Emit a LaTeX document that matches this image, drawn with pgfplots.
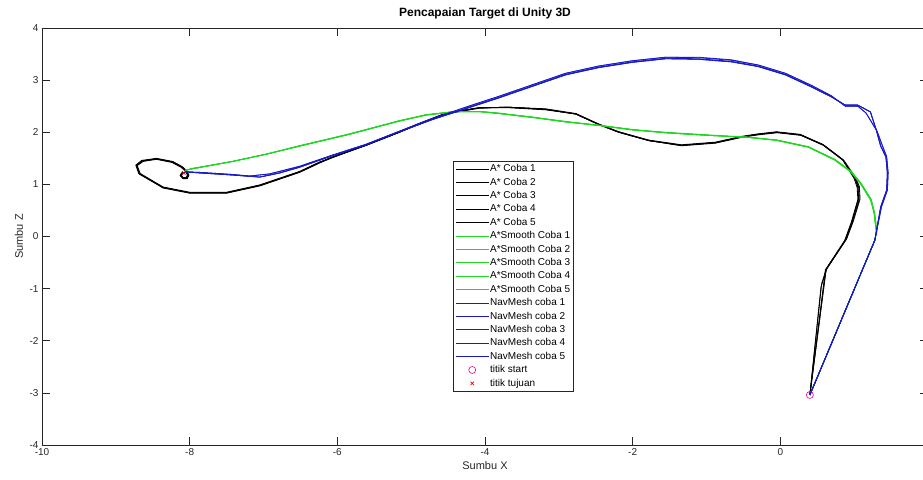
\documentclass[border=0pt]{standalone}
\usepackage{fontspec}
\setmainfont{Liberation Sans}
\usepackage{pgfplots}
\pgfplotsset{compat=1.18}
\definecolor{axgray}{RGB}{38,38,38}
\definecolor{pgreen}{RGB}{30,215,30}
\definecolor{pblue}{RGB}{25,25,200}
\begin{document}
\begin{tikzpicture}
\useasboundingbox (0,0) rectangle (923pt,479pt);
\begin{axis}[
    at={(42pt,34pt)}, anchor=south west,
    width=886pt, height=417pt, scale only axis,
    xmin=-10, xmax=2, ymin=-4, ymax=4,
    xtick={-10,-8,...,0}, ytick={-4,-3,...,4},
    tick align=inside, major tick length=8pt,
    axis line style={axgray, line width=0.6pt},
    tick style={axgray, line width=0.6pt},
    tick label style={font=\fontsize{10}{12}\selectfont, text=axgray},
    /pgf/number format/assume math mode=true,
    title={Pencapaian Target di Unity 3D},
    title style={font=\bfseries\fontsize{12}{14}\selectfont, anchor=base,
        at={(axis description cs:0.5,1)}, yshift=6pt},
    xlabel={Sumbu X},
    xlabel style={font=\fontsize{11}{13}\selectfont, text=axgray, anchor=base,
        at={(axis description cs:0.5,0)}, yshift=-24pt},
    ylabel={Sumbu Z},
    ylabel style={font=\fontsize{11}{13}\selectfont, text=axgray, anchor=base,
        at={(axis description cs:-0.0215,0.5)}},
    legend style={at={(0.464,0.681)}, anchor=north west, draw=axgray,
        line width=0.5pt, fill=white, font=\fontsize{10}{12}\selectfont,
        inner xsep=2pt, inner ysep=1pt, row sep=0pt,
        nodes={inner ysep=0.5pt, inner xsep=1pt, text height=9pt, text depth=3.4pt}},
    legend cell align=left,
    legend image code/.code={\draw[mark repeat=2,mark phase=2,#1]
        plot coordinates {(0pt,0pt) (16.5pt,0pt) (33pt,0pt)};},
    every axis plot/.append style={line width=0.8pt},
]

% A* (hitam)
\addplot[black] coordinates {
(0.40,-3.04) (0.62,-0.63) (0.88,-0.07) (0.97,0.28) (1.06,0.72) (1.05,0.95) (1.01,1.12) (0.85,1.47) (0.58,1.76) (0.27,1.95) (-0.05,2.00) (-0.30,1.96) (-0.53,1.91) (-0.88,1.80) (-1.34,1.75) (-1.78,1.84) (-2.19,2.00) (-2.46,2.15) (-2.77,2.35) (-3.18,2.44) (-3.68,2.48) (-4.08,2.47) (-4.53,2.36) (-4.93,2.14) (-5.16,2.00) (-5.61,1.75) (-6.07,1.52) (-6.24,1.42) (-6.51,1.24) (-7.05,0.98) (-7.50,0.84) (-8.00,0.84) (-8.36,0.94) (-8.68,1.20) (-8.72,1.36) (-8.64,1.45) (-8.45,1.49) (-8.23,1.43) (-8.11,1.34) (-8.05,1.26) (-8.02,1.18) (-8.04,1.12) (-8.09,1.12) (-8.12,1.17) (-8.10,1.22) (-8.07,1.23)
};
\addlegendentry{A* Coba 1}
\addplot[black] coordinates {
(0.40,-3.04) (0.55,-0.97) (0.63,-0.62) (0.90,-0.04) (0.99,0.30) (1.08,0.72) (1.07,0.96) (1.02,1.13) (0.86,1.46) (0.59,1.75) (0.28,1.94) (-0.04,1.99) (-0.30,1.95) (-0.53,1.90) (-0.88,1.79) (-1.34,1.74) (-1.78,1.84) (-2.19,2.01) (-2.46,2.16) (-2.77,2.36) (-3.18,2.45) (-3.68,2.48) (-4.08,2.46) (-4.53,2.35) (-4.93,2.13) (-5.16,2.00) (-5.61,1.75) (-6.07,1.51) (-6.24,1.41) (-6.51,1.23) (-7.05,0.97) (-7.50,0.83) (-8.00,0.83) (-8.36,0.93) (-8.69,1.21) (-8.73,1.37) (-8.65,1.46) (-8.45,1.50) (-8.23,1.44) (-8.10,1.34) (-8.04,1.26) (-8.01,1.18) (-8.03,1.11) (-8.09,1.11) (-8.13,1.17) (-8.11,1.22) (-8.07,1.23)
};
\addlegendentry{A* Coba 2}
\addplot[black] coordinates {
(0.40,-3.04) (0.61,-0.64) (0.87,-0.08) (0.96,0.27) (1.05,0.71) (1.04,0.94) (1.00,1.11) (0.84,1.48) (0.57,1.77) (0.27,1.96) (-0.05,2.01) (-0.30,1.97) (-0.53,1.92) (-0.88,1.81) (-1.34,1.76) (-1.78,1.85) (-2.19,2.01) (-2.46,2.15) (-2.77,2.35) (-3.18,2.43) (-3.68,2.47) (-4.08,2.47) (-4.53,2.37) (-4.93,2.15) (-5.16,2.01) (-5.61,1.76) (-6.07,1.52) (-6.24,1.43) (-6.51,1.25) (-7.05,0.99) (-7.50,0.85) (-8.00,0.85) (-8.36,0.95) (-8.67,1.21) (-8.71,1.36) (-8.63,1.44) (-8.45,1.48) (-8.24,1.42) (-8.12,1.33) (-8.06,1.26) (-8.03,1.18) (-8.05,1.13) (-8.09,1.13) (-8.11,1.17) (-8.09,1.22) (-8.07,1.23)
};
\addlegendentry{A* Coba 3}
\addplot[black] coordinates {
(0.40,-3.04) (0.56,-0.90) (0.62,-0.63) (0.89,-0.06) (0.98,0.29) (1.07,0.71) (1.06,0.96) (1.01,1.12) (0.85,1.46) (0.58,1.75) (0.27,1.95) (-0.05,2.00) (-0.30,1.96) (-0.53,1.91) (-0.88,1.80) (-1.34,1.75) (-1.78,1.84) (-2.19,2.00) (-2.46,2.15) (-2.77,2.35) (-3.18,2.44) (-3.68,2.48) (-4.08,2.47) (-4.53,2.36) (-4.93,2.14) (-5.16,2.00) (-5.61,1.75) (-6.07,1.52) (-6.24,1.42) (-6.51,1.24) (-7.05,0.98) (-7.50,0.84) (-8.00,0.84) (-8.36,0.94) (-8.68,1.20) (-8.72,1.36) (-8.64,1.45) (-8.45,1.49) (-8.23,1.43) (-8.11,1.34) (-8.05,1.26) (-8.02,1.18) (-8.04,1.12) (-8.09,1.12) (-8.12,1.17) (-8.10,1.22) (-8.07,1.23)
};
\addlegendentry{A* Coba 4}
\addplot[black] coordinates {
(0.40,-3.04) (0.62,-0.63) (0.88,-0.07) (0.97,0.28) (1.06,0.73) (1.05,0.95) (1.01,1.12) (0.85,1.47) (0.58,1.76) (0.27,1.95) (-0.05,2.00) (-0.30,1.96) (-0.53,1.91) (-0.88,1.80) (-1.34,1.75) (-1.78,1.84) (-2.19,2.00) (-2.46,2.15) (-2.77,2.35) (-3.18,2.44) (-3.68,2.48) (-4.08,2.47) (-4.53,2.36) (-4.93,2.14) (-5.16,2.00) (-5.61,1.75) (-6.07,1.52) (-6.24,1.42) (-6.51,1.24) (-7.05,0.98) (-7.50,0.84) (-8.00,0.84) (-8.36,0.94) (-8.68,1.20) (-8.72,1.36) (-8.64,1.45) (-8.45,1.49) (-8.23,1.43) (-8.11,1.34) (-8.05,1.26) (-8.02,1.18) (-8.04,1.12) (-8.09,1.12) (-8.12,1.17) (-8.10,1.22) (-8.07,1.23)
};
\addlegendentry{A* Coba 5}

% A* Smooth (hijau)
\addplot[pgreen] coordinates {
(0.40,-3.04) (1.28,-0.07) (1.30,0.10) (1.27,0.45) (1.23,0.70) (1.09,1.02) (0.96,1.24) (0.74,1.47) (0.38,1.72) (-0.05,1.85) (-0.43,1.90) (-0.97,1.94) (-1.55,1.99) (-2.00,2.05) (-2.46,2.13) (-2.91,2.20) (-3.36,2.29) (-3.81,2.36) (-4.08,2.40) (-4.39,2.40) (-4.80,2.33) (-5.16,2.22) (-5.84,1.96) (-6.51,1.74) (-6.96,1.58) (-7.42,1.44) (-7.96,1.30) (-8.06,1.27)
};
\addlegendentry{A*Smooth Coba 1}
\addplot[pgreen] coordinates {
(0.40,-3.04) (1.28,-0.07) (1.31,0.10) (1.28,0.45) (1.23,0.71) (1.09,1.03) (0.96,1.25) (0.74,1.48) (0.38,1.72) (-0.05,1.85) (-0.43,1.91) (-0.97,1.94) (-1.55,1.99) (-2.00,2.05) (-2.46,2.13) (-2.91,2.21) (-3.36,2.29) (-3.81,2.37) (-4.08,2.40) (-4.39,2.40) (-4.80,2.34) (-5.16,2.22) (-5.84,1.97) (-6.51,1.74) (-6.96,1.58) (-7.42,1.44) (-7.96,1.30) (-8.06,1.27)
};
\addlegendentry{A*Smooth Coba 2}
\addplot[pgreen] coordinates {
(0.40,-3.04) (1.28,-0.07) (1.30,0.10) (1.27,0.45) (1.22,0.70) (1.08,1.02) (0.95,1.24) (0.73,1.47) (0.38,1.71) (-0.05,1.84) (-0.43,1.90) (-0.97,1.94) (-1.55,1.99) (-2.00,2.04) (-2.46,2.13) (-2.91,2.20) (-3.36,2.28) (-3.81,2.36) (-4.08,2.39) (-4.39,2.39) (-4.80,2.33) (-5.16,2.21) (-5.84,1.96) (-6.51,1.73) (-6.96,1.58) (-7.42,1.44) (-7.96,1.30) (-8.06,1.27)
};
\addlegendentry{A*Smooth Coba 3}
\addplot[pgreen] coordinates {
(0.40,-3.04) (1.28,-0.07) (1.30,0.10) (1.27,0.45) (1.23,0.70) (1.09,1.02) (0.96,1.24) (0.74,1.47) (0.38,1.72) (-0.05,1.85) (-0.43,1.90) (-0.97,1.94) (-1.55,1.99) (-2.00,2.05) (-2.46,2.13) (-2.91,2.20) (-3.36,2.29) (-3.81,2.36) (-4.08,2.40) (-4.39,2.40) (-4.80,2.33) (-5.16,2.22) (-5.84,1.96) (-6.51,1.74) (-6.96,1.58) (-7.42,1.44) (-7.96,1.30) (-8.06,1.27)
};
\addlegendentry{A*Smooth Coba 4}
\addplot[pgreen] coordinates {
(0.40,-3.04) (1.28,-0.07) (1.30,0.11) (1.27,0.46) (1.23,0.71) (1.09,1.02) (0.96,1.24) (0.74,1.47) (0.38,1.72) (-0.05,1.85) (-0.43,1.90) (-0.97,1.95) (-1.55,2.00) (-2.00,2.05) (-2.46,2.14) (-2.91,2.20) (-3.36,2.29) (-3.81,2.36) (-4.08,2.40) (-4.39,2.40) (-4.80,2.33) (-5.16,2.22) (-5.84,1.96) (-6.51,1.74) (-6.96,1.58) (-7.42,1.44) (-7.96,1.31) (-8.06,1.27)
};
\addlegendentry{A*Smooth Coba 5}

% NavMesh (biru)
\addplot[pblue] coordinates {
(0.40,-3.04) (1.28,-0.07) (1.36,0.57) (1.44,0.89) (1.45,1.22) (1.43,1.53) (1.36,1.73) (1.30,2.04) (1.22,2.39) (1.05,2.52) (0.88,2.52) (0.69,2.68) (0.42,2.87) (0.07,3.10) (-0.30,3.26) (-0.66,3.35) (-1.11,3.40) (-1.55,3.41) (-2.01,3.34) (-2.46,3.24) (-2.91,3.10) (-3.36,2.88) (-3.81,2.66) (-4.22,2.47) (-4.72,2.24) (-5.16,2.01) (-5.61,1.76) (-6.07,1.55) (-6.51,1.33) (-6.78,1.22) (-7.05,1.14) (-7.42,1.18) (-7.86,1.22) (-8.06,1.24)
};
\addlegendentry{NavMesh coba 1}
\addplot[pblue] coordinates {
(0.40,-3.04) (1.28,-0.07) (1.37,0.57) (1.45,0.89) (1.46,1.22) (1.44,1.53) (1.38,1.75) (1.31,2.02) (1.16,2.37) (1.05,2.50) (0.88,2.50) (0.69,2.70) (0.42,2.90) (0.07,3.13) (-0.30,3.29) (-0.66,3.39) (-1.11,3.44) (-1.55,3.44) (-2.01,3.37) (-2.46,3.27) (-2.91,3.13) (-3.36,2.91) (-3.81,2.69) (-4.22,2.50) (-4.72,2.26) (-5.16,2.02) (-5.61,1.77) (-6.07,1.56) (-6.51,1.35) (-6.92,1.20) (-7.19,1.16) (-7.42,1.19) (-7.86,1.23) (-8.06,1.24)
};
\addlegendentry{NavMesh coba 2}
\addplot[pblue] coordinates {
(0.40,-3.04) (1.28,-0.07) (1.36,0.57) (1.44,0.89) (1.45,1.22) (1.43,1.53) (1.36,1.73) (1.30,2.04) (1.22,2.39) (1.05,2.52) (0.88,2.52) (0.69,2.68) (0.42,2.88) (0.07,3.11) (-0.30,3.27) (-0.66,3.36) (-1.11,3.41) (-1.55,3.42) (-2.01,3.35) (-2.46,3.25) (-2.91,3.11) (-3.36,2.89) (-3.81,2.67) (-4.22,2.48) (-4.72,2.24) (-5.16,2.01) (-5.61,1.76) (-6.07,1.55) (-6.51,1.33) (-6.78,1.22) (-7.05,1.14) (-7.42,1.18) (-7.86,1.22) (-8.06,1.24)
};
\addlegendentry{NavMesh coba 3}
\addplot[pblue] coordinates {
(0.40,-3.04) (1.28,-0.07) (1.37,0.57) (1.45,0.89) (1.46,1.22) (1.44,1.53) (1.38,1.75) (1.31,2.02) (1.16,2.37) (1.05,2.50) (0.88,2.50) (0.69,2.70) (0.42,2.90) (0.07,3.13) (-0.30,3.29) (-0.66,3.38) (-1.11,3.43) (-1.55,3.44) (-2.01,3.37) (-2.46,3.27) (-2.91,3.13) (-3.36,2.91) (-3.81,2.69) (-4.22,2.50) (-4.72,2.26) (-5.16,2.02) (-5.61,1.77) (-6.07,1.56) (-6.51,1.34) (-6.92,1.20) (-7.19,1.16) (-7.42,1.19) (-7.86,1.23) (-8.06,1.24)
};
\addlegendentry{NavMesh coba 4}
\addplot[pblue] coordinates {
(0.40,-3.04) (1.28,-0.07) (1.36,0.57) (1.44,0.89) (1.45,1.22) (1.43,1.53) (1.36,1.73) (1.30,2.04) (1.22,2.39) (1.05,2.52) (0.88,2.52) (0.69,2.68) (0.42,2.87) (0.07,3.10) (-0.30,3.26) (-0.66,3.35) (-1.11,3.40) (-1.55,3.41) (-2.01,3.34) (-2.46,3.24) (-2.91,3.10) (-3.36,2.88) (-3.81,2.66) (-4.22,2.47) (-4.72,2.24) (-5.16,2.01) (-5.61,1.76) (-6.07,1.55) (-6.51,1.33) (-6.78,1.22) (-7.05,1.14) (-7.42,1.18) (-7.86,1.22) (-8.06,1.24)
};
\addlegendentry{NavMesh coba 5}

% titik
\addplot[only marks, mark=o, mark size=3.5pt, color=magenta, line width=0.6pt] coordinates {(0.40,-3.04)};
\addlegendentry{titik start}
\addplot[only marks, mark=x, mark size=2.5pt, color=red, line width=0.6pt] coordinates {(-8.08,1.22)};
\addlegendentry{titik tujuan}

\end{axis}
\end{tikzpicture}
\end{document}
